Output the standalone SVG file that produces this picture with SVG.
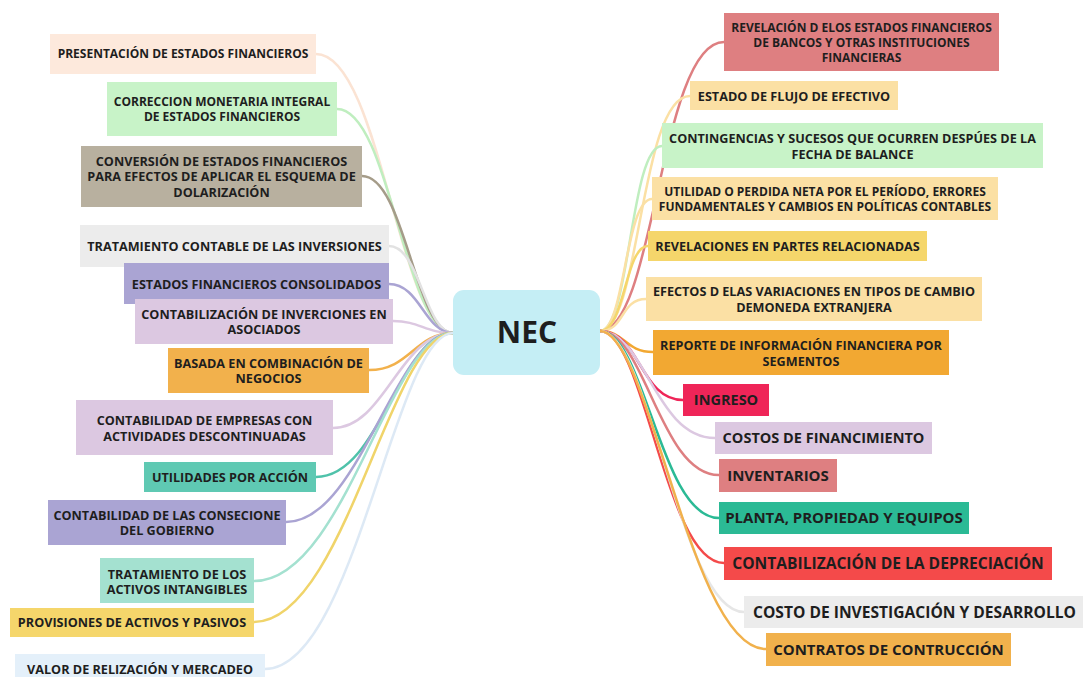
<svg xmlns="http://www.w3.org/2000/svg" width="1083" height="677" viewBox="0 0 1083 677">
<style>
text{font-family:"Open Sans","Liberation Sans",sans-serif;font-weight:700;fill:#1e1e1e;text-anchor:middle}
.s12{font-size:12px}.m{font-size:12.65px}.s14{font-size:14.5px}.s15{font-size:15px}.s16{font-size:15.6px}
.c{fill:none;stroke-width:2.5;stroke-linecap:round}
</style>
<rect width="1083" height="677" fill="#fff"/>
<g id="connectors">
<path class="c" stroke="#fbe3d3" d="M316 54 C380 54 400 333 453 333"/>
<path class="c" stroke="#bfeebf" d="M337 109 C390 109 405 333 453 333"/>
<path class="c" stroke="#a59c89" d="M362 176 C405 176 415 333 453 333"/>
<path class="c" stroke="#e2e2e2" d="M389 246 C420 246 425 333 453 333"/>
<path class="c" stroke="#aaa4d3" d="M389 284 C420 284 425 333 453 333"/>
<path class="c" stroke="#dcc8e1" d="M393 321 C420 321 425 333 453 333"/>
<path class="c" stroke="#f2b14c" d="M369 370 C410 370 415 333 453 333"/>
<path class="c" stroke="#dcc8e1" d="M333 428 C385 428 400 333 453 333"/>
<path class="c" stroke="#4fc2aa" d="M316 477 C380 477 400 333 453 333"/>
<path class="c" stroke="#aaa4d3" d="M286 522 C360 522 395 333 453 333"/>
<path class="c" stroke="#a4e1d0" d="M254 581 C345 581 390 333 453 333"/>
<path class="c" stroke="#f0d46a" d="M254 622 C345 622 390 333 453 333"/>
<path class="c" stroke="#dde9f5" d="M265 669 C355 669 395 333 453 333"/>
<path class="c" stroke="#de7f81" d="M724 42 C660 42 655 331 600 331"/>
<path class="c" stroke="#fbe0a4" d="M690 96 C640 96 640 331 600 331"/>
<path class="c" stroke="#bfeebf" d="M662 146 C630 146 630 331 600 331"/>
<path class="c" stroke="#fbe0a4" d="M652 199 C625 199 625 331 600 331"/>
<path class="c" stroke="#f5d66b" d="M648 246 C625 246 625 331 600 331"/>
<path class="c" stroke="#fbe0a4" d="M646 299 C620 299 625 331 600 331"/>
<path class="c" stroke="#f2a832" d="M653 352 C625 352 625 331 600 331"/>
<path class="c" stroke="#ef2558" d="M683 400 C640 400 640 331 600 331"/>
<path class="c" stroke="#dcc8e1" d="M715 438 C655 438 645 331 600 331"/>
<path class="c" stroke="#de7f81" d="M719 475 C660 475 645 331 600 331"/>
<path class="c" stroke="#2bba95" d="M719 518 C660 518 645 331 600 331"/>
<path class="c" stroke="#f44a4a" d="M724 563 C665 563 645 331 600 331"/>
<path class="c" stroke="#e6e6e6" d="M744 612 C680 612 650 331 600 331"/>
<path class="c" stroke="#f1b14c" d="M766 649 C690 649 650 331 600 331"/>
</g>
<g id="center"><rect x="453" y="290" width="147" height="85" rx="11" fill="#c5eef5"/><text x="527" y="343" style="font-size:30px">NEC</text></g>
<g id="L1"><rect x="50" y="34" width="266" height="40" fill="#fde9dc"/><text class="s12" x="183" y="58.3">PRESENTACIÓN DE ESTADOS FINANCIEROS</text></g>
<g id="L2"><rect x="107" y="82" width="230" height="54" fill="#c8f3c8"/><text class="s12" x="222" y="106.3">CORRECCION MONETARIA INTEGRAL</text><text class="s12" x="222" y="121.3">DE ESTADOS FINANCIEROS</text></g>
<g id="L3"><rect x="81" y="146" width="281" height="61" fill="#b8b09f"/><text class="m" x="221.5" y="165.5">CONVERSIÓN DE ESTADOS FINANCIEROS</text><text class="m" x="221.5" y="181">PARA EFECTOS DE APLICAR EL ESQUEMA DE</text><text class="m" x="221.5" y="196.5">DOLARIZACIÓN</text></g>
<g id="L4"><rect x="80" y="225" width="309" height="42" fill="#ececec"/><text class="m" x="234.5" y="250.5">TRATAMIENTO CONTABLE DE LAS INVERSIONES</text></g>
<g id="L5"><rect x="124" y="263" width="265" height="41" fill="#aaa4d3"/><text class="m" x="256.5" y="288.5">ESTADOS FINANCIEROS CONSOLIDADOS</text></g>
<g id="L6"><rect x="135" y="299" width="258" height="45" fill="#dcc8e1"/><text class="m" x="264" y="318.5">CONTABILIZACIÓN DE INVERCIONES EN</text><text class="m" x="264" y="333.5">ASOCIADOS</text></g>
<g id="L7"><rect x="168" y="348" width="201" height="45" fill="#f2b14c"/><text class="m" x="268.5" y="367.5">BASADA EN COMBINACIÓN DE</text><text class="m" x="268.5" y="382.5">NEGOCIOS</text></g>
<g id="L8"><rect x="76" y="400" width="257" height="55" fill="#dcc8e1"/><text class="m" x="204.5" y="424.5">CONTABILIDAD DE EMPRESAS CON</text><text class="m" x="204.5" y="440.5">ACTIVIDADES DESCONTINUADAS</text></g>
<g id="L9"><rect x="144" y="462" width="172" height="30" fill="#5fc9b3"/><text class="m" x="230" y="481.5">UTILIDADES POR ACCIÓN</text></g>
<g id="L10"><rect x="48" y="500" width="238" height="45" fill="#aaa4d3"/><text class="m" x="167" y="519.5">CONTABILIDAD DE LAS CONSECIONE</text><text class="m" x="167" y="534.5">DEL GOBIERNO</text></g>
<g id="L11"><rect x="100" y="558" width="154" height="45" fill="#a4e1d0"/><text class="m" x="177" y="578.5">TRATAMIENTO DE LOS</text><text class="m" x="177" y="593.5">ACTIVOS INTANGIBLES</text></g>
<g id="L12"><rect x="10" y="608" width="244" height="29" fill="#f5d66b"/><text class="m" x="132" y="627">PROVISIONES DE ACTIVOS Y PASIVOS</text></g>
<g id="L13"><rect x="15" y="654" width="250" height="30" fill="#e4f0fa"/><text class="m" x="140" y="673.5">VALOR DE RELIZACIÓN Y MERCADEO</text></g>
<g id="R1"><rect x="724" y="13" width="275" height="58" fill="#de7f81"/><text class="s12" x="861.5" y="32">REVELACIÓN D ELOS ESTADOS FINANCIEROS</text><text class="s12" x="861.5" y="47">DE BANCOS Y OTRAS INSTITUCIONES</text><text class="s12" x="861.5" y="62">FINANCIERAS</text></g>
<g id="R2"><rect x="690" y="81" width="208" height="29" fill="#fbe0a4"/><text class="m" x="794" y="100.5">ESTADO DE FLUJO DE EFECTIVO</text></g>
<g id="R3"><rect x="662" y="123" width="381" height="45" fill="#c8f3c8"/><text class="m" x="852.5" y="142.5">CONTINGENCIAS Y SUCESOS QUE OCURREN DESPÚES DE LA</text><text class="m" x="852.5" y="158.5">FECHA DE BALANCE</text></g>
<g id="R4"><rect x="652" y="177" width="346" height="43" fill="#fbe0a4"/><text class="s12" x="825" y="196.3">UTILIDAD O PERDIDA NETA POR EL PERÍODO, ERRORES</text><text class="s12" x="825" y="211.3">FUNDAMENTALES Y CAMBIOS EN POLÍTICAS CONTABLES</text></g>
<g id="R5"><rect x="648" y="231" width="279" height="30" fill="#f5d66b"/><text class="m" x="787.5" y="250.5">REVELACIONES EN PARTES RELACIONADAS</text></g>
<g id="R6"><rect x="646" y="277" width="336" height="44" fill="#fbe0a4"/><text class="m" x="814" y="295.5">EFECTOS D ELAS VARIACIONES EN TIPOS DE CAMBIO</text><text class="m" x="814" y="311.5">DEMONEDA EXTRANJERA</text></g>
<g id="R7"><rect x="653" y="330" width="296" height="45" fill="#f2a832"/><text class="m" x="801" y="349.5">REPORTE DE INFORMACIÓN FINANCIERA POR</text><text class="m" x="801" y="365.5">SEGMENTOS</text></g>
<g id="R8"><rect x="683" y="384" width="86" height="32" fill="#ef2558"/><text class="s14" x="726" y="405.2">INGRESO</text></g>
<g id="R9"><rect x="715" y="422" width="217" height="32" fill="#dcc8e1"/><text class="s14" x="823.5" y="443.2">COSTOS DE FINANCIMIENTO</text></g>
<g id="R10"><rect x="719" y="459" width="118" height="33" fill="#de7f81"/><text class="s15" x="778" y="480.9">INVENTARIOS</text></g>
<g id="R11"><rect x="719" y="502" width="250" height="32" fill="#2bba95"/><text class="s15" x="844" y="523.4">PLANTA, PROPIEDAD Y EQUIPOS</text></g>
<g id="R12"><rect x="724" y="547" width="328" height="33" fill="#f44a4a"/><text class="s16" x="888" y="569.1">CONTABILIZACIÓN DE LA DEPRECIACIÓN</text></g>
<g id="R13"><rect x="744" y="596" width="345" height="32" fill="#ececec"/><text class="s16" x="914.5" y="617.6">COSTO DE INVESTIGACIÓN Y DESARROLLO</text></g>
<g id="R14"><rect x="766" y="633" width="245" height="33" fill="#f1b14c"/><text class="s15" x="888.5" y="654.9">CONTRATOS DE CONTRUCCIÓN</text></g>
</svg>
